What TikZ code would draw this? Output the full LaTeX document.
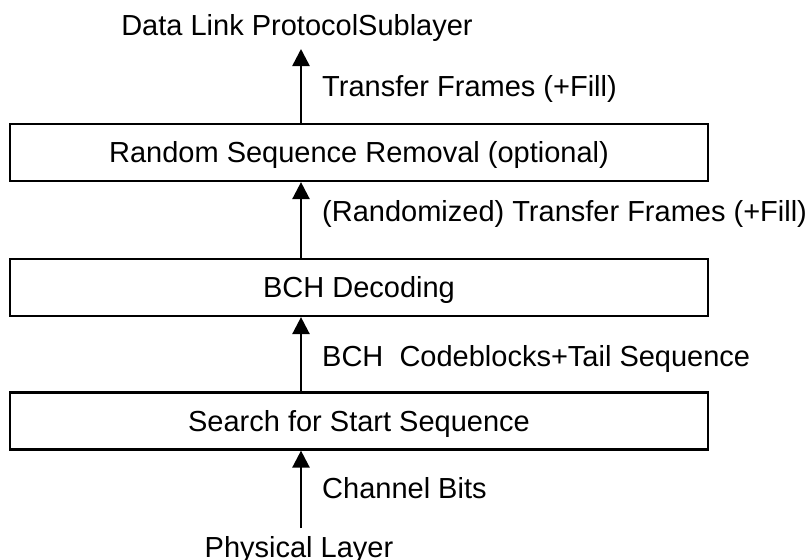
\documentclass[tikz,border=0pt]{standalone}
\usepackage{fontspec}
\setmainfont{Liberation Sans}
\usetikzlibrary{arrows.meta}
\begin{document}
\begin{tikzpicture}[x=1pt,y=-1pt,
  every node/.style={font=\fontsize{29}{34}\selectfont, text height=20.8pt, text depth=0pt, inner sep=0pt},
  blk/.style={draw, line width=2.2pt, minimum width=698pt, minimum height=57pt},
  flow/.style={line width=2.5pt, -{Triangle[length=17pt,width=17pt]}},
  lbl/.style={anchor=west}]
\useasboundingbox (0,0) rectangle (807,560);
\node[blk] (rsr) at (359,152.5) {Random Sequence Removal (optional)};
\node[blk] (bch) at (359,287.5) {BCH Decoding};
\node[blk] (srch) at (359,421) {Search for Start Sequence};
\node (dl) at (297,25) {Data Link ProtocolSublayer};
\node (phy) at (299,547.5) {Physical Layer};
\coordinate (top) at (301,49);
\coordinate (bot) at (301,528);
\draw[flow] (top |- rsr.north) -- (top);
\draw[flow] (top |- bch.north) -- (top |- rsr.south);
\draw[flow] (top |- srch.north) -- (top |- bch.south);
\draw[flow] (bot) -- (top |- srch.south);
\node[lbl] (l1) at (322,86.5) {Transfer Frames (+Fill)};
\node[lbl] (l2) at (322,211) {(Randomized) Transfer Frames (+Fill)};
\node[lbl] (l3) at (322,356) {BCH\ \ Codeblocks+Tail Sequence};
\node[lbl] (l4) at (322,488) {Channel Bits};
\end{tikzpicture}
\end{document}
